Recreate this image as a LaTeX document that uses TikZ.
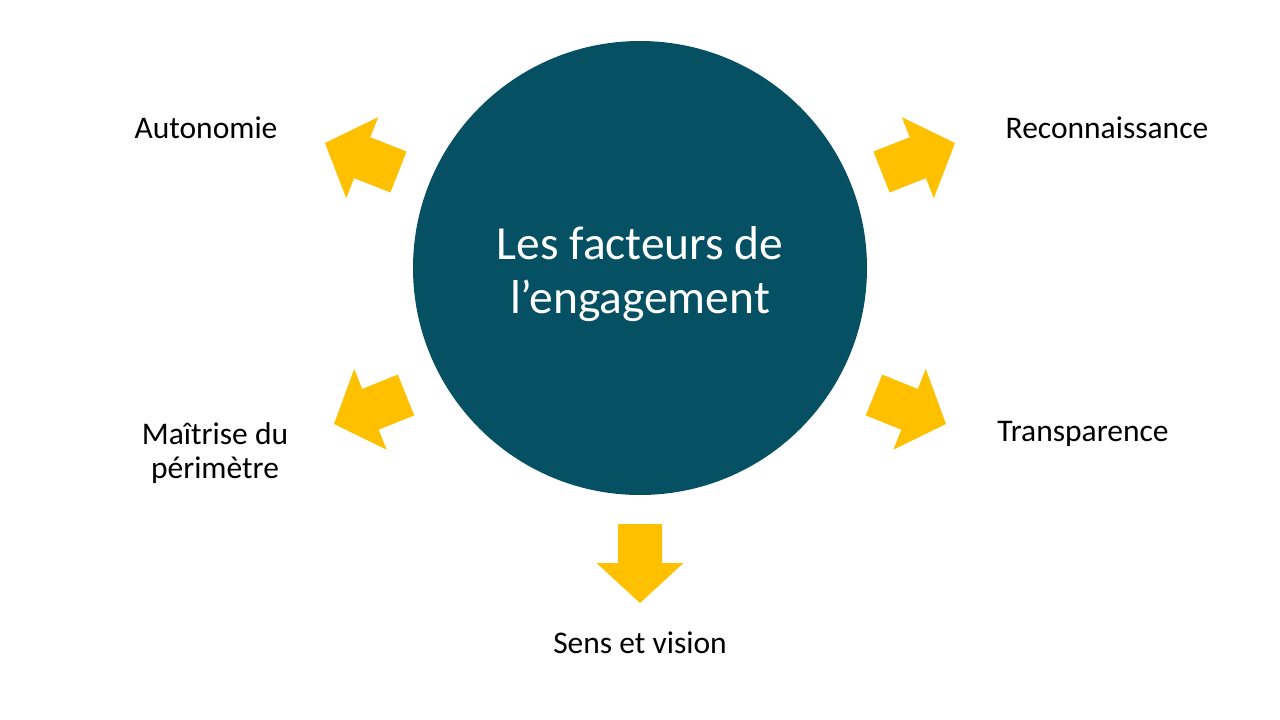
\documentclass[tikz,border=0pt]{standalone}
\usepackage{fontspec}
\setmainfont{Carlito}
\usetikzlibrary{calc}
\definecolor{teal0}{RGB}{5,81,99}
\definecolor{gold0}{RGB}{255,192,0}
\tikzset{
  lbl/.style={font=\fontsize{31.5}{34}\selectfont, text=black, inner sep=0pt, align=center, anchor=base},
  fatarrow/.style={fill=gold0, draw=none},
}
\newcommand{\fatarrowpath}[2]{%
  \fill[fatarrow]
    ($(#1)!22pt!-90:(#2)$) --
    ($($(#1)!0.494!(#2)$)!22pt!-90:(#2)$) --
    ($($(#1)!0.494!(#2)$)!43.5pt!-90:(#2)$) --
    (#2) --
    ($($(#1)!0.494!(#2)$)!43.5pt!90:(#2)$) --
    ($($(#1)!0.494!(#2)$)!22pt!90:(#2)$) --
    ($(#1)!22pt!90:(#2)$) -- cycle;}
\begin{document}
\begin{tikzpicture}[x=1pt,y=-1pt]
  \fill[white] (0,0) rectangle (1280,720);
  \useasboundingbox (0,0) rectangle (1280,720);
  % central circle
  \node[circle, fill=teal0, minimum size=454pt, inner sep=0pt] (c) at (640,268) {};
  \node[font=\fontsize{47.5}{54}\selectfont, text=white, align=center, anchor=base, inner sep=0pt] (title) at (640,313) {Les facteurs de\\l’engagement};
  % arrows
  \coordinate (b1) at (398.5,172); \coordinate (t1) at (325,143);
  \coordinate (b2) at (881.5,172); \coordinate (t2) at (955,143);
  \coordinate (b3) at (406,395);   \coordinate (t3) at (334,424);
  \coordinate (b4) at (874,395);   \coordinate (t4) at (946,424);
  \coordinate (b5) at (640,524);   \coordinate (t5) at (640,603);
  \fatarrowpath{b1}{t1}
  \fatarrowpath{b2}{t2}
  \fatarrowpath{b3}{t3}
  \fatarrowpath{b4}{t4}
  \fatarrowpath{b5}{t5}
  % labels
  \node[lbl] (l1) at (206,138) {Autonomie};
  \node[lbl] (l2) at (1107,138) {Reconnaissance};
  \node[lbl] (l3) at (215,478) {Maîtrise du\\périmètre};
  \node[lbl] (l4) at (1083,441) {Transparence};
  \node[lbl] (l5) at (640,653) {Sens et vision};
\end{tikzpicture}
\end{document}
